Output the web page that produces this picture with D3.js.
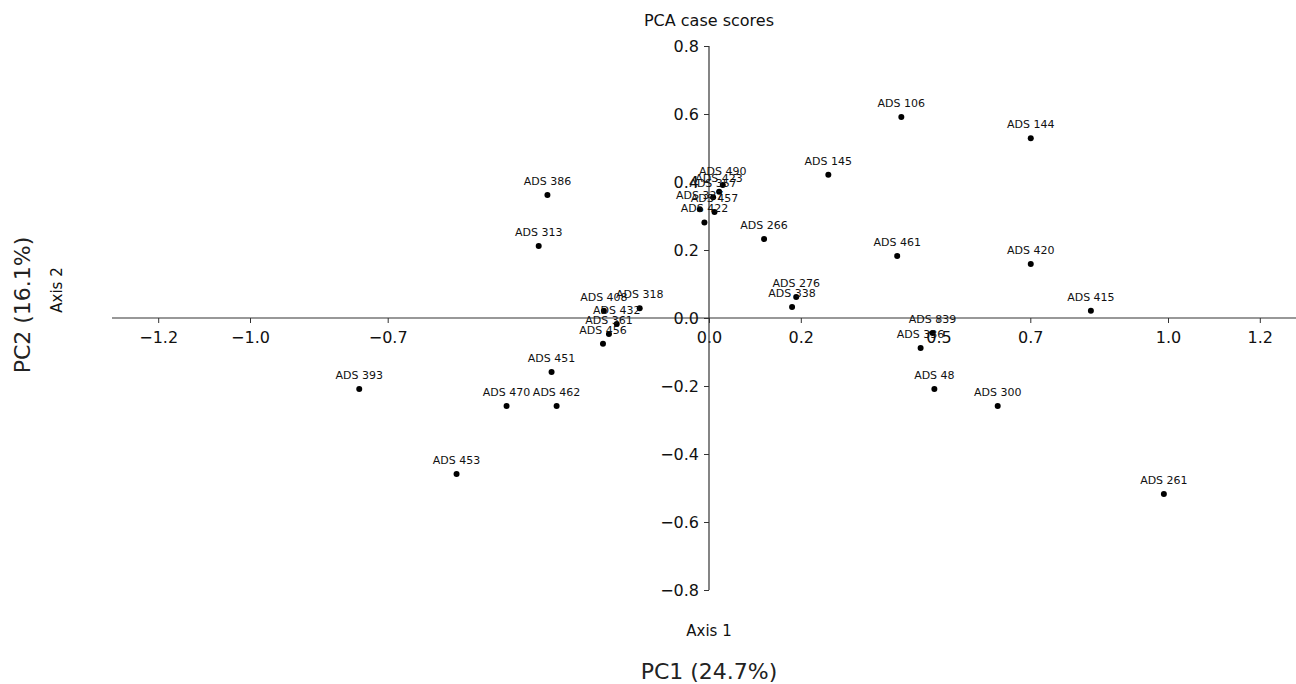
<!DOCTYPE html>
<html><head><meta charset="utf-8">
<script src="https://cdn.jsdelivr.net/npm/d3@7"></script>
<style>body{margin:0;background:#fff}svg{display:block}text{font-family:"DejaVu Sans",sans-serif}</style>
</head><body><svg id="c" width="1296" height="684"></svg>
<script>
const labels = ["ADS 106","ADS 144","ADS 145","ADS 461","ADS 420","ADS 415","ADS 266","ADS 276","ADS 338","ADS 839","ADS 336","ADS 48","ADS 300","ADS 261","ADS 393","ADS 453","ADS 470","ADS 462","ADS 451","ADS 386","ADS 313","ADS 318","ADS 408","ADS 432","ADS 361","ADS 456","ADS 490","ADS 423","ADS 357","ADS 327","ADS 457","ADS 422"];
const pc1 = [0.419,0.701,0.260,0.410,0.701,0.832,0.120,0.190,0.181,0.487,0.461,0.491,0.629,0.991,-0.762,-0.550,-0.441,-0.332,-0.343,-0.352,-0.371,-0.151,-0.229,-0.201,-0.218,-0.231,0.030,0.022,0.009,-0.020,0.012,-0.010];
const pc2 = [0.591,0.529,0.421,0.182,0.159,0.021,0.232,0.062,0.032,-0.044,-0.088,-0.209,-0.259,-0.518,-0.209,-0.459,-0.259,-0.259,-0.159,0.362,0.212,0.029,0.021,-0.018,-0.047,-0.076,0.391,0.371,0.355,0.320,0.312,0.281];
const xTicks = [-1.2,-1.0,-0.7,0.0,0.2,0.5,0.7,1.0,1.2];
const yTicks = [-0.8,-0.6,-0.4,-0.2,0.0,0.2,0.4,0.6,0.8];

const svg = d3.select("#c");
const x = d3.scaleLinear().domain([-1.0, 1.0]).range([250, 1168]);
const y = d3.scaleLinear().domain([-0.8, 0.8]).range([590, 46]);
const fmt = v => d3.format(".1f")(v).replace("-", "\u2212");
const axisColor = "#333";

// x axis through y=0
const gx = svg.append("g").attr("transform", `translate(0,${y(0)})`)
  .call(d3.axisBottom(x).tickValues(xTicks).tickFormat(fmt).tickSize(5).tickPadding(9).tickSizeOuter(0));
gx.select(".domain").attr("d", "M112,0H1296");
// y axis through x=0
const gy = svg.append("g").attr("transform", `translate(${x(0)},0)`)
  .call(d3.axisLeft(y).tickValues(yTicks).tickFormat(fmt).tickSize(5).tickPadding(5).tickSizeOuter(0));
gy.select(".domain").attr("d", `M0,${y(0.8)}V${y(-0.8)}`);
[gx, gy].forEach(g => {
  g.selectAll(".domain").attr("stroke", axisColor).attr("stroke-width", 1.2);
  g.selectAll(".tick line").attr("stroke", axisColor).attr("stroke-width", 1);
  g.selectAll("text").attr("font-size", 16).attr("fill", "#111").attr("font-family", "DejaVu Sans");
});

// points
const data = labels.map((l, i) => ({l, a: pc1[i], b: pc2[i]}));
svg.append("g").selectAll("circle").data(data).join("circle")
  .attr("cx", d => x(d.a)).attr("cy", d => y(d.b)).attr("r", 3).attr("fill", "#000");
svg.append("g").selectAll("text").data(data).join("text")
  .attr("x", d => x(d.a)).attr("y", d => y(d.b) - 10)
  .attr("text-anchor", "middle").attr("font-size", 11).attr("fill", "#111").text(d => d.l);

// titles
svg.append("text").attr("x", 709).attr("y", 26).attr("text-anchor", "middle").attr("font-size", 16).attr("fill", "#111").text("PCA case scores");
svg.append("text").attr("x", 709).attr("y", 636).attr("text-anchor", "middle").attr("font-size", 15).attr("fill", "#111").text("Axis 1");
svg.append("text").attr("transform", "translate(62,290) rotate(-90)").attr("text-anchor", "middle").attr("font-size", 15).attr("fill", "#111").text("Axis 2");
svg.append("text").attr("x", 709).attr("y", 679).attr("text-anchor", "middle").attr("font-size", 22).attr("fill", "#222").text("PC1 (24.7%)");
svg.append("text").attr("transform", "translate(30,305) rotate(-90)").attr("text-anchor", "middle").attr("font-size", 22).attr("fill", "#222").text("PC2 (16.1%)");
</script></body></html>
